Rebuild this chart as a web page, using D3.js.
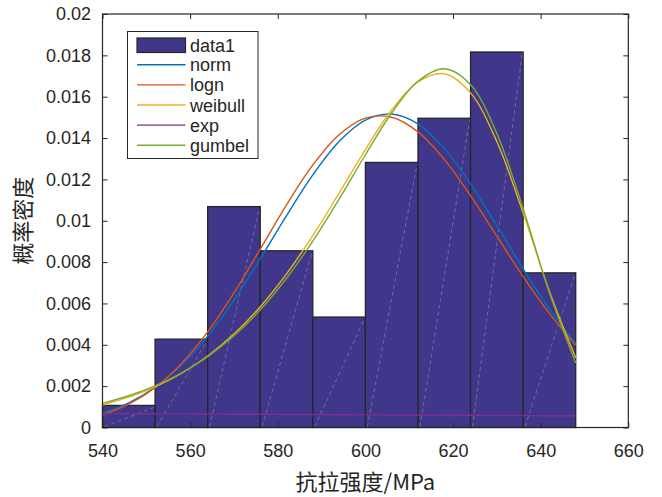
<!DOCTYPE html>
<meta charset="utf-8">
<style>
body { margin: 0; background: #fff; }
text { font-family: "Liberation Sans", Arial, sans-serif; fill: #262626; }
.cjk { font-family: "Noto Sans CJK SC", sans-serif; }
.axis line { stroke: #262626; stroke-width: 1px; }
.axis path { display: none; }
</style>
<svg width="662" height="497"></svg>
<script src="https://d3js.org/d3.v7.min.js"></script>
<script>

// histogram (bin edges, probability density per bin)
var binEdges = [540, 552, 564, 576, 588, 600, 612, 624, 636, 648];
var density = [0.001068, 0.004274, 0.010684, 0.008547, 0.005342, 0.012821, 0.014957, 0.018162, 0.007479];

// fitted curves at every 6 MPa
var xs = [540, 546, 552, 558, 564, 570, 576, 582, 588, 594, 600, 606, 612, 618, 624, 630, 636, 642, 648];
var normY = [0.000696, 0.001194, 0.001946, 0.003010, 0.004421, 0.006162, 0.008155, 0.010245, 0.012218, 0.013831,
             0.014864, 0.015164, 0.014685, 0.013500, 0.011781, 0.009759, 0.007675, 0.005730, 0.004060];
var lognY = [0.000614, 0.001125, 0.001926, 0.003083, 0.004623, 0.006511, 0.008626, 0.010771, 0.012701, 0.014164,
             0.014966, 0.015005, 0.014298, 0.012968, 0.011211, 0.009251, 0.007296, 0.005507, 0.003983];
var weibullY = [0.001090, 0.001469, 0.001969, 0.002621, 0.003458, 0.004521, 0.005838, 0.007430, 0.009285, 0.011337,
                0.013445, 0.015355, 0.016717, 0.017113, 0.016186, 0.013830, 0.010376, 0.006584, 0.003373];
var expY = [0.000677, 0.000670, 0.000664, 0.000657, 0.000651, 0.000644, 0.000638, 0.000631, 0.000625, 0.000619,
            0.000613, 0.000607, 0.000601, 0.000595, 0.000589, 0.000583, 0.000577, 0.000571, 0.000566];
var gumbelY = [0.001166, 0.001535, 0.002015, 0.002635, 0.003431, 0.004437, 0.005691, 0.007218, 0.009019, 0.011050,
               0.013192, 0.015211, 0.016750, 0.017352, 0.016578, 0.014222, 0.010582, 0.006514, 0.003117];

var xTicks = [540, 560, 580, 600, 620, 640, 660];
var yTicks = [0, 0.002, 0.004, 0.006, 0.008, 0.01, 0.012, 0.014, 0.016, 0.018, 0.02];

var seriesNames = ["norm", "logn", "weibull", "exp", "gumbel"];
var seriesColors = ["#0072BD", "#D95319", "#EDB120", "#7E2F8E", "#77AC30"];
var seriesValues = [normY, lognY, weibullY, expY, gumbelY];

var svg = d3.select("svg");

var plotL = 102.5, plotR = 628.3, plotT = 14, plotB = 427.5;

var x = d3.scaleLinear().domain([540, 660]).range([plotL, plotR]);
var y = d3.scaleLinear().domain([0, 0.02]).range([plotB, plotT]);

svg.append("rect")
   .attr("x", plotL).attr("y", plotT)
   .attr("width", plotR - plotL).attr("height", plotB - plotT)
   .attr("fill", "#fff");

// bars
var bins = density.map(function(d, i) { return {x0: binEdges[i], x1: binEdges[i + 1], v: d}; });

svg.append("g").selectAll("rect")
   .data(bins)
   .enter().append("rect")
   .attr("x", function(d) { return x(d.x0); })
   .attr("y", function(d) { return y(d.v); })
   .attr("width", function(d) { return x(d.x1) - x(d.x0); })
   .attr("height", function(d) { return y(0) - y(d.v); })
   .attr("fill", "#40378a")
   .attr("stroke", "#262626")
   .attr("stroke-width", 1.3);

// faint diagonal seams inside each bar
svg.append("g").selectAll("line")
   .data(bins)
   .enter().append("line")
   .attr("x1", function(d) { return x(d.x0) + 2; })
   .attr("y1", y(0) - 1)
   .attr("x2", function(d) { return x(d.x1) - 1; })
   .attr("y2", function(d) { return y(d.v) + 2; })
   .attr("stroke", "#fff")
   .attr("stroke-opacity", 0.35)
   .attr("stroke-width", 0.7)
   .attr("stroke-dasharray", "4,3");

// curves
var line = d3.line()
   .x(function(d) { return x(d[0]); })
   .y(function(d) { return y(d[1]); })
   .curve(d3.curveCatmullRom);

seriesValues.forEach(function(vals, i) {
  svg.append("path")
     .datum(xs.map(function(xv, j) { return [xv, vals[j]]; }))
     .attr("d", line)
     .attr("fill", "none")
     .attr("stroke", seriesColors[i])
     .attr("stroke-width", 1.4);
});

// axes, ticks pointing inward
svg.append("g").attr("class", "axis")
   .attr("transform", "translate(0," + plotB + ")")
   .call(d3.axisBottom(x).tickValues(xTicks).tickSize(-5).tickPadding(16.5))
   .selectAll("text").attr("font-size", "18px").attr("fill", "#262626");

svg.append("g").attr("class", "axis")
   .attr("transform", "translate(0," + plotT + ")")
   .call(d3.axisTop(x).tickValues(xTicks).tickSize(-5).tickFormat(""));

svg.append("g").attr("class", "axis")
   .attr("transform", "translate(" + plotL + ",0)")
   .call(d3.axisLeft(y).tickValues(yTicks).tickSize(-5).tickPadding(11.5).tickFormat(function(d) { return String(d); }))
   .selectAll("text").attr("font-size", "18px").attr("fill", "#262626");

svg.append("g").attr("class", "axis")
   .attr("transform", "translate(" + plotR + ",0)")
   .call(d3.axisRight(y).tickValues(yTicks).tickSize(-5).tickFormat(""));

svg.selectAll(".axis text").attr("font-family", "\"Liberation Sans\", Arial, sans-serif");

svg.append("rect")
   .attr("x", plotL).attr("y", plotT)
   .attr("width", plotR - plotL).attr("height", plotB - plotT)
   .attr("fill", "none")
   .attr("stroke", "#262626")
   .attr("stroke-width", 1.2);

// axis titles
svg.append("text")
   .attr("class", "cjk")
   .attr("x", (plotL + plotR) / 2)
   .attr("y", 490)
   .attr("text-anchor", "middle")
   .attr("font-size", "22px")
   .text("抗拉强度/MPa");

svg.append("text")
   .attr("class", "cjk")
   .attr("transform", "translate(31," + ((plotT + plotB) / 2) + ") rotate(-90)")
   .attr("text-anchor", "middle")
   .attr("font-size", "22px")
   .text("概率密度");

// legend
var lg = svg.append("g");
lg.append("rect")
  .attr("x", 127.5).attr("y", 31.5)
  .attr("width", 130.5).attr("height", 127)
  .attr("fill", "#fff")
  .attr("stroke", "#262626")
  .attr("stroke-width", 1);

lg.append("rect")
  .attr("x", 137).attr("y", 38)
  .attr("width", 48.5).attr("height", 14.5)
  .attr("fill", "#40378a")
  .attr("stroke", "#262626")
  .attr("stroke-width", 1.2);

lg.append("text")
  .attr("x", 190).attr("y", 51.5)
  .attr("font-size", "18px")
  .text("data1");

seriesNames.forEach(function(name, i) {
  var ly = 64.8 + i * 20.1;
  lg.append("line")
    .attr("x1", 137).attr("x2", 185.5)
    .attr("y1", ly).attr("y2", ly)
    .attr("stroke", seriesColors[i])
    .attr("stroke-width", 1.4);
  lg.append("text")
    .attr("x", 190).attr("y", ly + 6.5)
    .attr("font-size", "18px")
    .text(name);
});

</script>
